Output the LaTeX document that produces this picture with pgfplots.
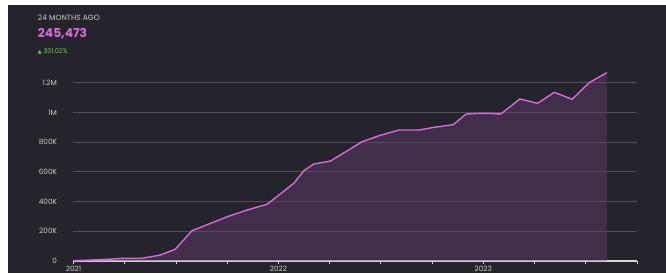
\documentclass[border=0pt]{standalone}
\usepackage{pgfplots}
\usepackage{pgfplotstable}
\pgfplotsset{compat=1.18}
\usepackage{fontspec}
\setmainfont{Poppins}
\newfontfamily\symfont{DejaVu Sans}
\definecolor{bgcol}{RGB}{37,36,45}
\definecolor{gridcol}{RGB}{82,81,90}
\definecolor{axiscol}{RGB}{215,215,220}
\definecolor{labelcol}{RGB}{205,205,210}
\definecolor{linecol}{RGB}{214,108,214}
\definecolor{fillcol}{RGB}{105,61,120}
\definecolor{pinkcol}{RGB}{214,108,214}
\definecolor{greencol}{RGB}{110,210,90}
\pgfplotstableread{
m v
0 2000
1.95 11000
2.9 18000
4.0 18000
5.08 40000
5.96 79000
6.94 204000
7.82 244000
9.0 298000
10.16 343000
11.34 382000
12.9 523000
13.49 608000
14.07 653000
15.05 673000
16.9 803000
17.9 844000
19.06 882000
20.23 882000
21.1 900000
22.23 918000
23.0 990000
24.05 995000
25.03 990000
26.14 1091000
27.18 1062000
28.16 1136000
29.2 1089000
30.2 1201000
31.23 1268000
}\datatable
\begin{document}
\begin{tikzpicture}[x=1pt,y=1pt]
\fill[white] (0,0) rectangle (666,273);
\fill[bgcol] (8,0) rectangle (666,268);
\useasboundingbox (0,0) rectangle (666,273);
\begin{axis}[
  at={(73.5pt,12pt)}, anchor=south west,
  scale only axis, width=563.5pt, height=193.05pt,
  xmin=0, xmax=33, ymin=0, ymax=1300000,
  axis x line*=bottom, axis y line*=left,
  y axis line style={draw=none},
  x axis line style={draw=axiscol, line width=1.2pt, -},
  xtick={0,3,...,33}, xticklabels={2021,,,,2022,,,,2023,,,},
  ytick={0,200000,400000,600000,800000,1000000,1200000},
  yticklabels={0,200K,400K,600K,800K,1M,1.2M},
  ymajorgrids, grid style={gridcol, line width=1.1pt},
  tick align=outside, major tick length=3pt,
  xtick style={draw=axiscol, line width=0.8pt},
  ytick style={draw=none},
  tick label style={font=\fontsize{7.3}{8}\selectfont, text=labelcol},
  yticklabel style={anchor=east, xshift=-10pt},
  xticklabel style={anchor=north, yshift=1.5pt},
  scaled y ticks=false,
  clip=false,
]
\addplot[draw=none, fill=fillcol, fill opacity=0.4] table[x=m,y=v] {\datatable} \closedcycle;
\addplot[linecol, line width=1.4pt, mark=none] table[x=m,y=v] {\datatable};
\end{axis}
\node[anchor=base west, inner sep=0, text=labelcol, font=\fontsize{7.6}{8}\selectfont] at (37.7,252.3) {24 MONTHS AGO};
\node[anchor=base west, inner sep=0, text=pinkcol, font=\fontsize{12.3}{14}\bfseries\selectfont] at (37.7,235.3) {245,473};
\node[anchor=base west, inner sep=0, text=greencol, font=\fontsize{6.6}{7}\selectfont] at (37.7,219.7) {{\symfont\fontsize{5}{6}\selectfont ▲} 331.02\%};
\end{tikzpicture}
\end{document}
